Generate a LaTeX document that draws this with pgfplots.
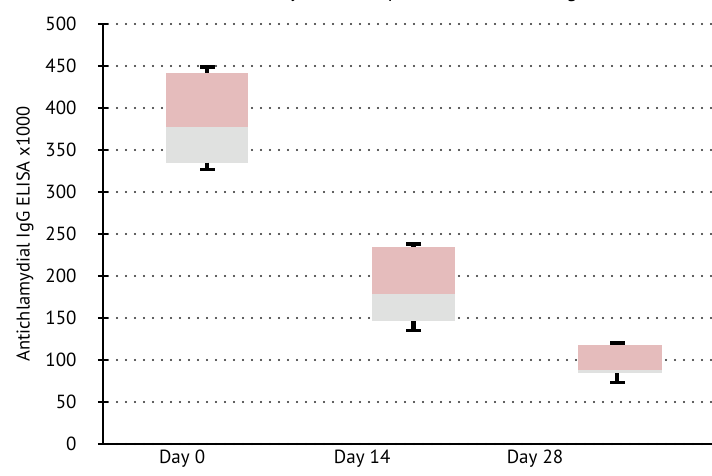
\documentclass[border=0pt]{standalone}
\usepackage{pgfplots}
\pgfplotsset{compat=1.18}
\usepackage{pgfplotstable}
\usepackage{fontspec}
\setmainfont{PT Sans}
\definecolor{boxpink}{RGB}{229,188,188}
\definecolor{boxgrey}{RGB}{224,225,224}
\definecolor{griddot}{RGB}{40,40,40}

\begin{document}
\begin{tikzpicture}
\begin{axis}[
  at={(0,0)}, anchor=south west,
  scale only axis, width=609pt, height=420pt,
  xmin=-0.504, xmax=2.445, ymin=0, ymax=500,
  axis x line=bottom, axis y line=left,
  axis line style={-, line width=2.5pt, black},
  ytick={0,50,...,500},
  xtick={-0.121,0.751,1.588},
  xticklabels={Day 0, Day 14, Day 28},
  x tick style={draw=none},
  y tick style={line width=2.5pt, black},
  tick align=center, major tick length=10pt,
  ymajorgrids,
  grid style={griddot, line width=2.2pt, line cap=round, dash pattern=on 0pt off 9pt, dash phase=-5pt},
  ticklabel style={font=\fontsize{19}{22}\selectfont},
  yticklabel style={xshift=-18pt},
  xticklabel style={yshift=3pt},
  /pgf/number format/assume math mode=true,
  ylabel={Antichlamydial IgG ELISA x1000},
  ylabel style={font=\fontsize{18.5}{21}\selectfont},
  ylabel shift=5pt,
  clip=false,
]
% Day 0
\addplot [fill=boxgrey, draw=none] coordinates {(-0.2,335) (0.2,335) (0.2,377) (-0.2,377)} --cycle;
\addplot [fill=boxpink, draw=none] coordinates {(-0.2,377) (0.2,377) (0.2,442) (-0.2,442)} --cycle;
% Day 14
\addplot [fill=boxgrey, draw=none] coordinates {(0.8,146) (1.2,146) (1.2,178) (0.8,178)} --cycle;
\addplot [fill=boxpink, draw=none] coordinates {(0.8,178) (1.2,178) (1.2,235) (0.8,235)} --cycle;
% Day 28
\addplot [fill=boxgrey, draw=none] coordinates {(1.795,84) (2.205,84) (2.205,88) (1.795,88)} --cycle;
\addplot [fill=boxpink, draw=none] coordinates {(1.795,88) (2.205,88) (2.205,118) (1.795,118)} --cycle;
% whiskers
\addplot [black, line width=4.5pt, mark=-, mark indices={2}, mark options={line width=3.5pt, mark size=7.5pt}] coordinates {(0,442) (0,449)};
\addplot [black, line width=4.5pt, mark=-, mark indices={2}, mark options={line width=3.5pt, mark size=7.5pt}] coordinates {(0,335) (0,327)};
\addplot [black, line width=4.5pt, mark=-, mark indices={2}, mark options={line width=3.5pt, mark size=7.5pt}] coordinates {(1,235) (1,238)};
\addplot [black, line width=4.5pt, mark=-, mark indices={2}, mark options={line width=3.5pt, mark size=7.5pt}] coordinates {(1,146) (1,135)};
\addplot [black, line width=4.5pt, mark=-, mark indices={2}, mark options={line width=3.5pt, mark size=7.5pt}] coordinates {(1.985,118) (1.985,120)};
\addplot [black, line width=4.5pt, mark=-, mark indices={2}, mark options={line width=3.5pt, mark size=7.5pt}] coordinates {(1.985,84) (1.985,73)};
\node[anchor=base, font=\fontsize{20}{24}\selectfont, yshift=26pt] at (axis cs:0.935,500) {Antibody Titer Comparison Across Testing};
\end{axis}
\pgfresetboundingbox
\useasboundingbox (-103pt,-32pt) rectangle (609pt,444pt);
\end{tikzpicture}
\end{document}
